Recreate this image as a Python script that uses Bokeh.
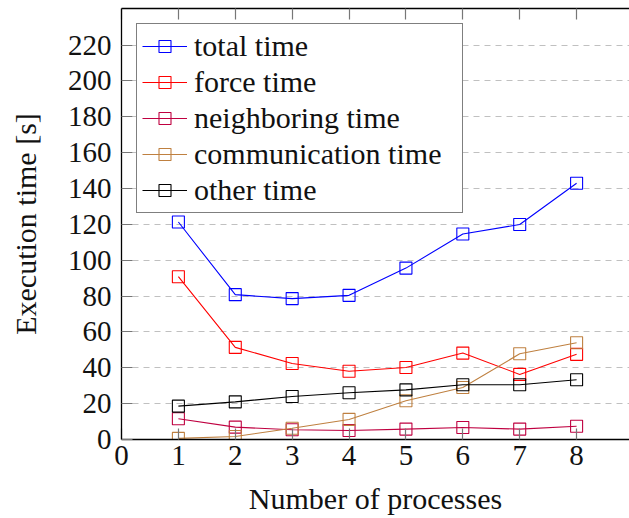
from bokeh.plotting import figure
from bokeh.models import LinearAxis, FixedTicker, Range1d, Legend, LegendItem
from bokeh.embed import file_html
from bokeh.resources import INLINE

# Execution time breakdown per number of processes
processes = [1, 2, 3, 4, 5, 6, 7, 8]
total_time = [121.3, 80.8, 78.6, 80.4, 95.6, 114.6, 119.9, 142.9]
force_time = [90.8, 51.4, 42.4, 38.1, 40.2, 48.2, 36.3, 47.5]
neighboring_time = [11.6, 6.9, 5.4, 5.0, 5.8, 6.7, 5.8, 7.4]
communication_time = [0.6, 1.7, 6.3, 11.2, 21.6, 29.0, 47.8, 54.0]
other_time = [18.6, 21.0, 24.0, 26.1, 27.7, 30.5, 30.5, 33.3]

x_ticks = [0, 1, 2, 3, 4, 5, 6, 7, 8]
y_ticks = [0, 20, 40, 60, 80, 100, 120, 140, 160, 180, 200, 220]

series = [
    ("total time", total_time, "#0000ff"),
    ("force time", force_time, "#ff0000"),
    ("neighboring time", neighboring_time, "#bf0040"),
    ("communication time", communication_time, "#bf8040"),
    ("other time", other_time, "#000000"),
]

FONT = "serif"
TEXT = "#111111"

p = figure(
    width=629, height=518,
    x_range=Range1d(0, 8.93), y_range=Range1d(0, 240.4),
    output_backend="svg", toolbar_location=None,
    min_border_left=121, min_border_right=0,
    min_border_top=8, min_border_bottom=79,
    background_fill_color="white", border_fill_color="white",
)
p.outline_line_color = None

# horizontal dashed grid only
p.xgrid.grid_line_color = None
p.ygrid.ticker = FixedTicker(ticks=y_ticks)
p.ygrid.grid_line_color = "#c0c0c0"
p.ygrid.grid_line_dash = "6 5"
p.ygrid.grid_line_width = 1

# bottom axis
xa = p.xaxis[0]
xa.ticker = FixedTicker(ticks=x_ticks)
xa.axis_label = "Number of processes"
# left axis
ya = p.yaxis[0]
ya.ticker = FixedTicker(ticks=y_ticks)
ya.axis_label = "Execution time [s]"

for ax in (xa, ya):
    ax.axis_line_color = "black"
    ax.axis_line_width = 1.3
    ax.major_tick_in = 11
    ax.major_tick_out = 0
    ax.major_tick_line_color = "#777777"
    ax.major_tick_line_width = 1.2
    ax.minor_tick_line_color = None
    ax.major_label_text_font = FONT
    ax.major_label_text_font_size = "29px"
    ax.major_label_text_color = TEXT
    ax.axis_label_text_font = FONT
    ax.axis_label_text_font_size = "30px"
    ax.axis_label_text_font_style = "normal"
    ax.axis_label_text_color = TEXT

xa.major_label_standoff = 6
xa.axis_label_standoff = 14
ya.major_label_standoff = 10
ya.axis_label_standoff = 23

# top frame edge with inward ticks, no labels
top = LinearAxis(ticker=FixedTicker(ticks=x_ticks))
top.axis_line_color = "black"
top.axis_line_width = 1.3
top.major_tick_in = 11
top.major_tick_out = 0
top.major_tick_line_color = "#777777"
top.major_tick_line_width = 1.2
top.minor_tick_line_color = None
top.major_label_text_font_size = "1px"
top.major_label_text_color = None
top.major_label_standoff = 0
p.add_layout(top, "above")

items = []
for name, vals, color in series:
    ln = p.line(processes, vals, line_color=color, line_width=1.1)
    sc = p.scatter(processes, vals, marker="square", size=12,
                   line_color=color, line_width=1.1, fill_color=None)
    items.append(LegendItem(label=name, renderers=[ln, sc]))

legend = Legend(
    items=items,
    location="top_left",
    margin=15,
    padding=5,
    spacing=2,
    glyph_width=45,
    glyph_height=30,
    label_height=30,
    label_width=263,
    label_standoff=7,
    label_text_font=FONT,
    label_text_font_size="30px",
    label_text_color=TEXT,
    border_line_color="black",
    border_line_width=1.2,
    background_fill_color="white",
    background_fill_alpha=1.0,
)
p.add_layout(legend, "center")

open("out.html", "w").write(file_html(p, INLINE))
